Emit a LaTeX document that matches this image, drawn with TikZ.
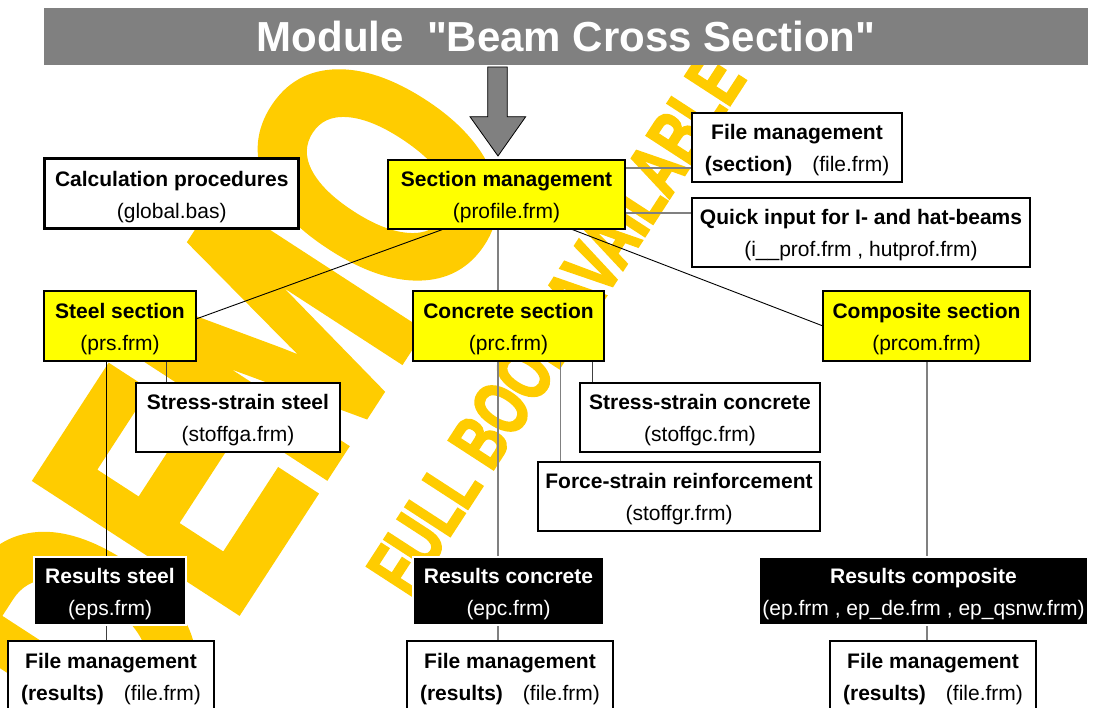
\documentclass[tikz,border=0pt]{standalone}
\usepackage{fontspec}
\setmainfont{Liberation Sans}
\newfontface\titleface{Liberation Sans Bold}[Ligatures=TeXOff]
\newfontface\demoface{Liberation Sans Bold}[FakeStretch=0.70, FakeBold=3]
\newfontface\bookface{Liberation Sans Bold}[FakeStretch=0.68, FakeBold=2.5]
\usetikzlibrary{calc}
\definecolor{barGray}{HTML}{808080}
\definecolor{boxYellow}{HTML}{FFFF00}
\definecolor{markYellow}{HTML}{FFCC00}
\definecolor{lineGray}{HTML}{808080}
\definecolor{lineDark}{HTML}{404040}
\pgfdeclarelayer{mark}
\pgfdeclarelayer{wires}
\pgfsetlayers{mark,wires,main}
% bold first line of a box, with a strut that sets the text a little lower
\newcommand{\boxhead}[1]{\rule{0pt}{21pt}\textbf{#1}}

\begin{document}
\begin{tikzpicture}[x=1pt,y=-1pt,
  every node/.style={inner sep=0pt, outer sep=0pt, align=center,
    font=\fontsize{21}{32}\selectfont},
  plainbox/.style={draw=black, line width=1.5pt, fill=white},
  heavybox/.style={draw=black, line width=3pt, fill=white},
  sectionbox/.style={draw=black, line width=1.9pt, fill=boxYellow},
  mainbox/.style={draw=black, line width=2.4pt, fill=boxYellow},
  resultbox/.style={draw=white, line width=1.5pt, fill=black, text=white},
  link/.style={draw=lineGray, line width=1.4pt},
  darklink/.style={draw=lineDark, line width=1.2pt},
  thinlink/.style={draw=black, line width=0.9pt},
  watermark/.style={text=markYellow, rotate=57}
]
\useasboundingbox (0,0) rectangle (1093,708);

% title bar
\node[fill=barGray, minimum width=1044pt, minimum height=57pt, text=white,
      font=\fontsize{42}{42}\titleface] (titlebar) at (566,36.5)
      {Module\ \ "Beam Cross Section"};

% boxes
\node[heavybox, minimum width=254pt, minimum height=70pt] (calc) at (171.75,194)
  {\boxhead{Calculation procedures}\\(global.bas)};
\node[mainbox, minimum width=237pt, minimum height=69pt] (secmgmt) at (506.5,194.5)
  {\boxhead{Section management}\\(profile.frm)};
\node[plainbox, minimum width=210pt, minimum height=69pt] (filesec) at (797,147.5)
  {\boxhead{File management}\\\textbf{(section)}\hspace{20pt}(file.frm)};
\node[plainbox, minimum width=338pt, minimum height=69pt] (quick) at (861,232.5)
  {\boxhead{Quick input for I- and hat-beams}\\(i\_\_prof.frm , hutprof.frm)};

\node[sectionbox, minimum width=152pt, minimum height=70pt] (steel) at (120,326)
  {\boxhead{Steel section}\\(prs.frm)};
\node[sectionbox, minimum width=191pt, minimum height=70pt] (concrete) at (508.5,326)
  {\boxhead{Concrete section}\\(prc.frm)};
\node[sectionbox, minimum width=207pt, minimum height=70pt] (composite) at (926.5,326)
  {\boxhead{Composite section}\\(prcom.frm)};

\node[plainbox, minimum width=204pt, minimum height=69pt] (ssteel) at (238,417.5)
  {\boxhead{Stress-strain steel}\\(stoffga.frm)};
\node[plainbox, minimum width=240pt, minimum height=69pt] (sconc) at (700,417.5)
  {\boxhead{Stress-strain concrete}\\(stoffgc.frm)};
\node[plainbox, minimum width=282pt, minimum height=69pt] (force) at (679,496.5)
  {\boxhead{Force-strain reinforcement}\\(stoffgr.frm)};

\node[resultbox, minimum width=152pt, minimum height=68pt] (ressteel) at (110,591)
  {\boxhead{Results steel}\\(eps.frm)};
\node[resultbox, minimum width=191pt, minimum height=68pt] (resconc) at (508.5,591)
  {\boxhead{Results concrete}\\(epc.frm)};
\node[resultbox, minimum width=329pt, minimum height=68pt] (rescomp) at (923.5,591)
  {\boxhead{Results composite}\\(ep.frm , ep\_de.frm , ep\_qsnw.frm)};

\node[plainbox, minimum width=206pt, minimum height=70pt] (fmres1) at (111,676)
  {\boxhead{File management}\\\textbf{(results)}\hspace{20pt}(file.frm)};
\node[plainbox, minimum width=206pt, minimum height=70pt] (fmres2) at (510,676)
  {\boxhead{File management}\\\textbf{(results)}\hspace{20pt}(file.frm)};
\node[plainbox, minimum width=206pt, minimum height=70pt] (fmres3) at (933,676)
  {\boxhead{File management}\\\textbf{(results)}\hspace{20pt}(file.frm)};

% entry arrow into the section management
\coordinate (xa) at (498,0);
\coordinate (tip) at ($(secmgmt.north -| xa)+(0,-4)$);
\draw[fill=barGray, draw=black, line width=0.8pt, line join=miter]
  (tip) -- ++(27.7,-39.3) -- ++(-18.4,0) -- ++(0,-49.7) -- ++(-19.6,0)
  -- ++(0,49.7) -- ++(-17.7,0) -- cycle;

% connectors
\coordinate (ya) at (0,168);
\coordinate (yb) at (0,213);
\coordinate (xs) at (106.5,0);
\coordinate (xss) at (166.7,0);
\coordinate (xf) at (560.7,0);
\coordinate (xsc) at (592.3,0);
\coordinate (xc) at (927,0);
\begin{pgfonlayer}{wires}
\draw[link] (secmgmt.east |- ya) -- (filesec.west |- ya);
\draw[link] (secmgmt.east |- yb) -- (quick.west |- yb);
\draw[link] (secmgmt.south -| xa) -- (concrete.north -| xa);
\draw[thinlink] ($(secmgmt.south west)!0.236!(secmgmt.south east)$)
  -- ($(steel.north east)!0.4!(steel.south east)$);
\draw[thinlink] ($(secmgmt.south west)!0.772!(secmgmt.south east)$)
  -- (composite.west);
\draw[thinlink] (steel.south -| xs) -- (ressteel.north -| xs);
\draw[darklink] (steel.south -| xss) -- (ssteel.north -| xss);
\draw[link] (concrete.south -| xa) -- (resconc.north -| xa);
\draw[link] (concrete.south -| xf) -- (force.north -| xf);
\draw[darklink] (concrete.south -| xsc) -- (sconc.north -| xsc);
\draw[link] (composite.south -| xc) -- (rescomp.north -| xc);
\draw[darklink] (ressteel.south -| xs) -- (fmres1.north -| xs);
\draw[link] (resconc.south -| xa) -- (fmres2.north -| xa);
\draw[link] (rescomp.south -| xc) -- (fmres3.north -| xc);
\end{pgfonlayer}

% watermark lettering behind everything
\begin{pgfonlayer}{mark}
\node[watermark, font=\fontsize{345}{345}\demoface] (demo) at (232,400) {DEMO};
\node[watermark, font=\fontsize{78}{78}\bookface] (fullbook) at (556,324)
  {FULL BOOK AVAILABLE};
\end{pgfonlayer}
\end{tikzpicture}
\end{document}
